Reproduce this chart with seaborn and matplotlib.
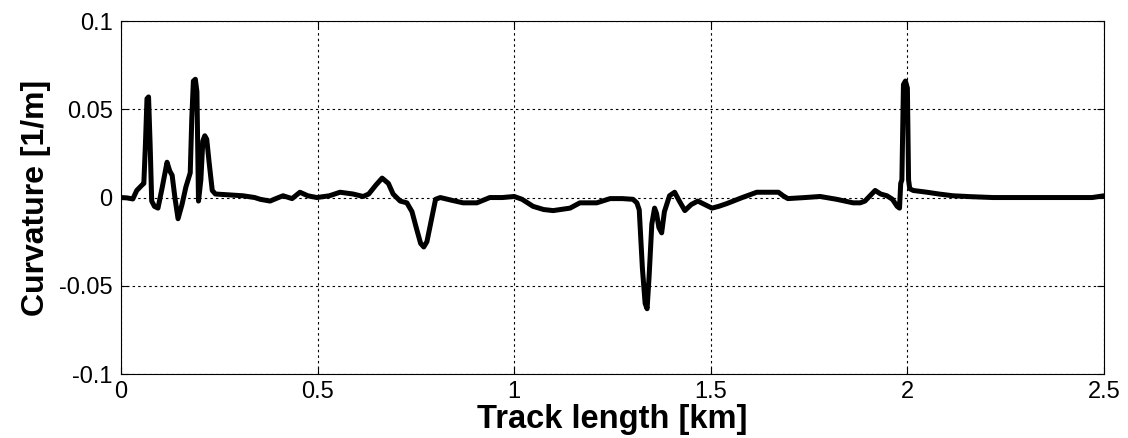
import matplotlib
matplotlib.use("Agg")
import matplotlib.pyplot as plt
import seaborn as sns
import pandas as pd

# Track curvature profile: distance along the track [km] and curvature [1/m]
track_km = [
    0.000, 0.015, 0.030, 0.040, 0.053, 0.058, 0.062, 0.066, 0.070, 0.074,
    0.078, 0.085, 0.094, 0.105, 0.117, 0.124, 0.130, 0.137, 0.145, 0.155,
    0.165, 0.176, 0.180, 0.184, 0.189, 0.193, 0.197, 0.203, 0.208, 0.213,
    0.218, 0.224, 0.232, 0.240, 0.275, 0.310, 0.340, 0.354, 0.379, 0.395,
    0.412, 0.435, 0.455, 0.475, 0.498, 0.530, 0.557, 0.590, 0.616, 0.630,
    0.648, 0.664, 0.680, 0.692, 0.710, 0.727, 0.740, 0.752, 0.762, 0.770,
    0.778, 0.790, 0.800, 0.812, 0.840, 0.870, 0.905, 0.938, 0.970, 1.000,
    1.020, 1.048, 1.075, 1.099, 1.142, 1.167, 1.190, 1.210, 1.244, 1.275,
    1.302, 1.312, 1.318, 1.326, 1.333, 1.338, 1.343, 1.350, 1.357, 1.362,
    1.368, 1.375, 1.382, 1.395, 1.408, 1.420, 1.434, 1.450, 1.467, 1.485,
    1.503, 1.520, 1.541, 1.580, 1.617, 1.650, 1.672, 1.684, 1.696, 1.740,
    1.778, 1.820, 1.862, 1.880, 1.892, 1.905, 1.918, 1.932, 1.948, 1.962,
    1.974, 1.980, 1.983, 1.986, 1.990, 1.995, 2.000, 2.003, 2.006, 2.015,
    2.050, 2.080, 2.116, 2.160, 2.218, 2.300, 2.400, 2.470, 2.500,
]
curvature = [
    0.0000, -0.0002, -0.0008, 0.0040, 0.0070, 0.0080, 0.0300, 0.0560, 0.0570, 0.0300,
    -0.0020, -0.0050, -0.0060, 0.0060, 0.0200, 0.0150, 0.0126, 0.0000, -0.0120, -0.0040,
    0.0060, 0.0140, 0.0450, 0.0660, 0.0670, 0.0600, -0.0020, 0.0100, 0.0320, 0.0350,
    0.0330, 0.0200, 0.0040, 0.0020, 0.0015, 0.0010, 0.0000, -0.0010, -0.0020, -0.0005,
    0.0010, -0.0006, 0.0030, 0.0010, 0.0000, 0.0010, 0.0030, 0.0020, 0.0006, 0.0020,
    0.0070, 0.0110, 0.0080, 0.0020, -0.0020, -0.0030, -0.0080, -0.0180, -0.0260, -0.0280,
    -0.0250, -0.0120, -0.0010, 0.0000, -0.0015, -0.0030, -0.0030, 0.0000, 0.0000, 0.0006,
    -0.0010, -0.0050, -0.0068, -0.0074, -0.0060, -0.0030, -0.0030, -0.0030, -0.0006, -0.0006,
    -0.0010, -0.0030, -0.0070, -0.0400, -0.0600, -0.0630, -0.0450, -0.0150, -0.0060, -0.0090,
    -0.0170, -0.0200, -0.0080, 0.0010, 0.0030, -0.0020, -0.0074, -0.0040, -0.0020, -0.0040,
    -0.0060, -0.0050, -0.0034, 0.0000, 0.0030, 0.0030, 0.0030, 0.0010, -0.0006, 0.0000,
    0.0006, -0.0010, -0.0030, -0.0030, -0.0020, 0.0010, 0.0040, 0.0020, 0.0010, -0.0010,
    -0.0050, -0.0060, 0.0080, 0.0100, 0.0640, 0.0660, 0.0620, 0.0100, 0.0050, 0.0040,
    0.0030, 0.0020, 0.0010, 0.0005, 0.0000, 0.0000, 0.0000, 0.0000, 0.0010,
]
x_ticks = [0, 0.5, 1, 1.5, 2, 2.5]
x_tick_labels = ["0", "0.5", "1", "1.5", "2", "2.5"]
y_ticks = [-0.1, -0.05, 0, 0.05, 0.1]
y_tick_labels = ["-0.1", "-0.05", "0", "0.05", "0.1"]

sns.set_style("white")
plt.rcParams["font.family"] = ["Liberation Sans", "DejaVu Sans"]
plt.rcParams["text.color"] = "black"
plt.rcParams["axes.labelcolor"] = "black"
plt.rcParams["xtick.color"] = "black"
plt.rcParams["ytick.color"] = "black"

df = pd.DataFrame({"Track length [km]": track_km, "Curvature [1/m]": curvature})

fig = plt.figure(figsize=(11.28, 4.38), dpi=100)
ax = fig.add_axes([0.1073, 0.146, 0.8714, 0.806])

sns.lineplot(data=df, x="Track length [km]", y="Curvature [1/m]", ax=ax,
             color="black", linewidth=3.6, estimator=None, sort=False)

ax.set_xlim(0, 2.5)
ax.set_ylim(-0.1, 0.1)
ax.set_xticks(x_ticks)
ax.set_xticklabels(x_tick_labels)
ax.set_yticks(y_ticks)
ax.set_yticklabels(y_tick_labels)

ax.grid(True, color="black", linestyle=(0, (2.2, 2.8)), linewidth=0.8)
for s in ax.spines.values():
    s.set_color("black")
    s.set_linewidth(0.8)

ax.tick_params(axis="both", direction="in", length=5, width=0.8, color="black",
               labelcolor="black", labelsize=17,
               top=True, right=True, bottom=True, left=True)
ax.tick_params(axis="x", pad=5)
ax.tick_params(axis="y", pad=6)

ax.set_xlabel("Track length [km]", fontsize=23.5, fontweight="bold", labelpad=0.5)
ax.set_ylabel("Curvature [1/m]", fontsize=23, fontweight="bold", labelpad=6)

fig.savefig("out.png", dpi=100)
